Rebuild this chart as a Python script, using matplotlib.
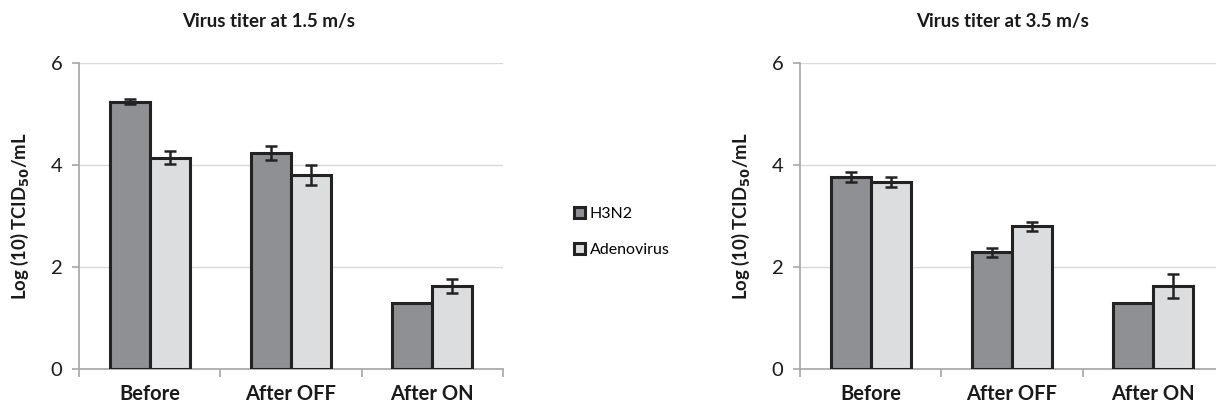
import matplotlib.pyplot as plt
import numpy as np

plt.rcParams['font.family'] = ['Lato', 'DejaVu Sans']

categories = ['Before', 'After OFF', 'After ON']
series_names = ['H3N2', 'Adenovirus']

# 1.5 m/s
h3n2_low = [5.24, 4.24, 1.30]
h3n2_low_err = [0.05, 0.14, 0.0]
adeno_low = [4.14, 3.80, 1.63]
adeno_low_err = [0.13, 0.20, 0.13]

# 3.5 m/s
h3n2_high = [3.76, 2.29, 1.30]
h3n2_high_err = [0.10, 0.09, 0.0]
adeno_high = [3.67, 2.80, 1.63]
adeno_high_err = [0.10, 0.085, 0.24]

titles = ['Virus titer at 1.5 m/s', 'Virus titer at 3.5 m/s']

dark = '#8f9094'
light = '#dcdddf'
edge = '#222222'
spine = '#a6a6a6'

W, H = 1216, 407
fig = plt.figure(figsize=(W / 100, H / 100), dpi=100)

ax_pos = [(79, 503), (800, 1224)]
y_top, y_bot = 63, 369


def draw_panel(ax, h_vals, h_err, a_vals, a_err):
    x = np.arange(len(categories))
    bw = 0.283
    ax.bar(x - bw / 2, h_vals, bw, color=dark, edgecolor=edge, linewidth=2.2, zorder=3,
           label=series_names[0])
    ax.bar(x + bw / 2, a_vals, bw, color=light, edgecolor=edge, linewidth=2.2, zorder=3,
           label=series_names[1])
    ax.errorbar(x - bw / 2, h_vals, yerr=h_err, fmt='none', ecolor=edge, elinewidth=1.8,
                capsize=4, capthick=1.8, zorder=4)
    ax.errorbar(x + bw / 2, a_vals, yerr=a_err, fmt='none', ecolor=edge, elinewidth=1.8,
                capsize=4, capthick=1.8, zorder=4)
    ax.set_xlim(-0.5, len(categories) - 0.5)
    ax.set_ylim(0, 6)
    ax.set_yticks([0, 2, 4, 6])
    ax.yaxis.grid(True, color='#d9d9d9', linewidth=1, zorder=0)
    ax.set_axisbelow(True)
    for s in ['top', 'right']:
        ax.spines[s].set_visible(False)
    for s in ['left', 'bottom']:
        ax.spines[s].set_color(spine)
        ax.spines[s].set_linewidth(1.2)
    ax.set_xticks(x)
    ax.set_xticklabels(categories, fontsize=14.5, fontweight='bold', color='#1a1a1a')
    ax.tick_params(axis='x', length=0, pad=11)
    ax.set_xticks(np.arange(-0.5, len(categories)), minor=True)
    ax.tick_params(axis='x', which='minor', length=6, color=spine, width=1.2)
    ax.tick_params(axis='y', length=5, color=spine, width=1.2, labelsize=14.5,
                   labelcolor='#1a1a1a', pad=7)
    ax.set_ylabel('Log (10) TCID$_{\\mathbf{50}}$/mL', fontsize=13.3, fontweight='bold',
                  color='#1a1a1a', labelpad=14)


data = [(h3n2_low, h3n2_low_err, adeno_low, adeno_low_err),
        (h3n2_high, h3n2_high_err, adeno_high, adeno_high_err)]

axes = []
for (x0, x1), d in zip(ax_pos, data):
    ax = fig.add_axes([x0 / W, 1 - y_bot / H, (x1 - x0) / W, (y_bot - y_top) / H])
    draw_panel(ax, *d)
    axes.append(ax)

fig.text(269 / W, 1 - 22 / H, titles[0], ha='center', va='center', fontsize=13.5,
         fontweight='bold', color='#1a1a1a')
fig.text(1003 / W, 1 - 22 / H, titles[1], ha='center', va='center', fontsize=13.5,
         fontweight='bold', color='#1a1a1a')

handles, labels = axes[0].get_legend_handles_labels()
fig.legend(handles, labels, loc='center left', bbox_to_anchor=(560 / W, 1 - 232 / H),
           frameon=False, fontsize=11.5, handlelength=0.65, handleheight=0.65,
           handletextpad=0.3, labelspacing=1.4)

fig.savefig('out.png', dpi=100)
